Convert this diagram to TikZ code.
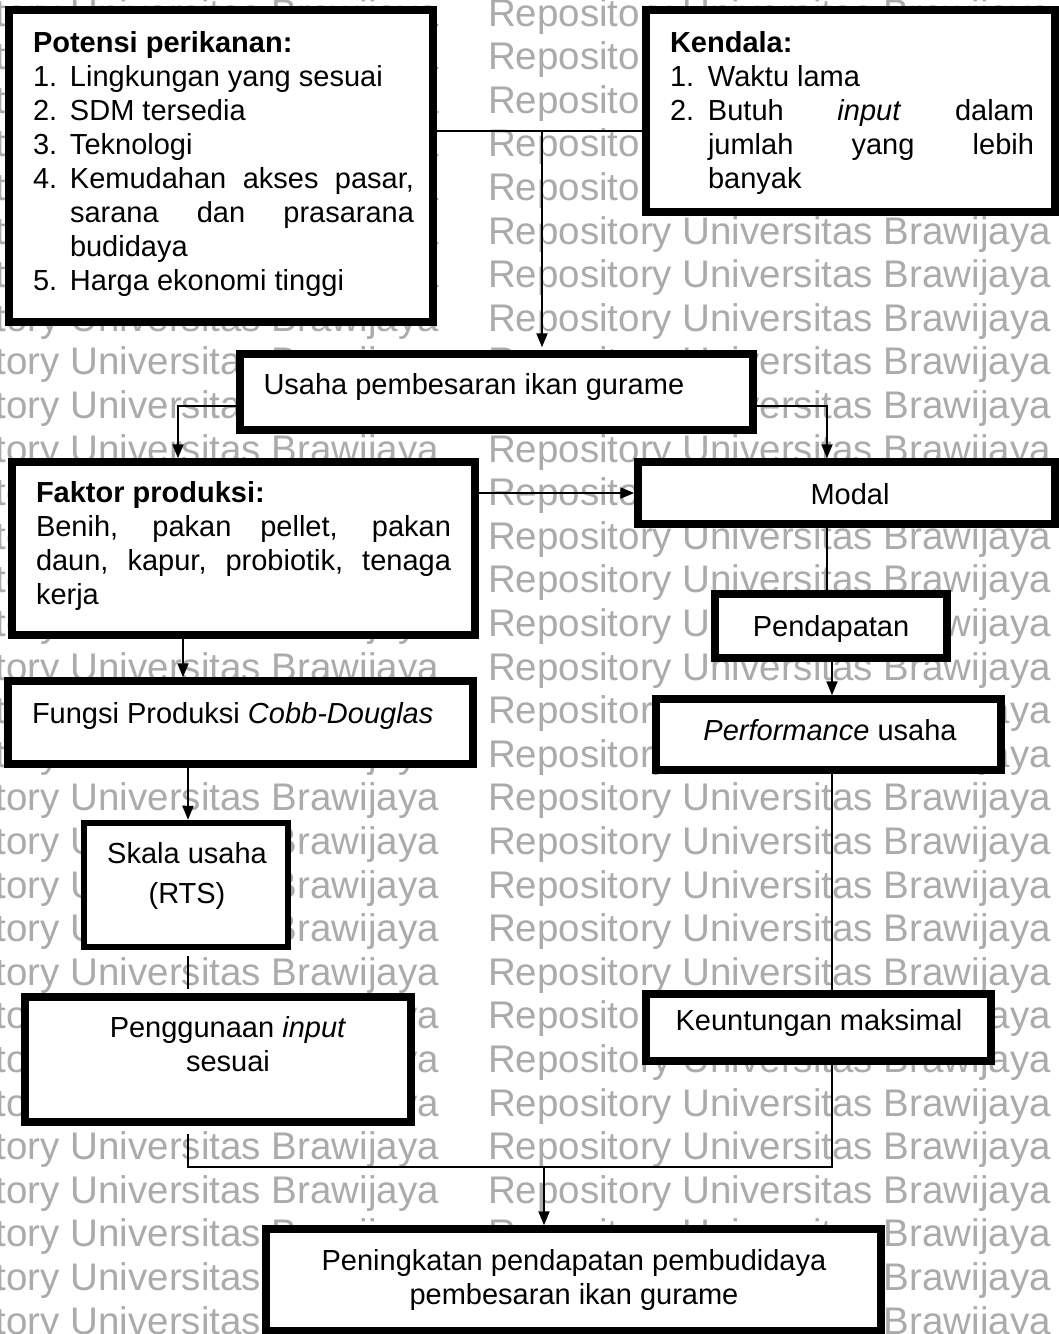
\documentclass[tikz,border=0pt]{standalone}
\usepackage{fontspec}
\setmainfont{Liberation Sans}
\usetikzlibrary{arrows.meta}
\newcommand\msz{\fontsize{29}{34}\selectfont}
\newcommand\wmsz{\fontsize{38.5}{40}\selectfont}
\tikzset{
  box/.style={draw=black, line width=7.5pt, fill=white, rectangle, inner sep=0pt},
  conn/.style={line width=2pt, draw=black},
  arr/.style={conn, -{Triangle[length=14pt,width=11pt]}},
  txt/.style={inner sep=0pt, outer sep=0pt, font=\msz, text=black},
  wm/.style={inner sep=0pt, font=\wmsz, text=black!33, anchor=base east},
}
\begin{document}
\begin{tikzpicture}[x=1pt,y=-1pt]
\useasboundingbox (0,0) rectangle (1059,1334);
\fill[white] (0,0) rectangle (1059,1334);
% watermark
\foreach \k in {0,...,30}{
  \node[wm] (wl\k) at (439,{26+43.6*\k}) {Repository Universitas Brawijaya};
  \node[wm] (wr\k) at (1051,{26+43.6*\k}) {Repository Universitas Brawijaya};
}
% boxes
\node[box, minimum width=424pt, minimum height=312pt] (pt) at (221,166) {};
\node[box, minimum width=409pt, minimum height=202pt] (kd) at (850.5,111) {};
\node[box, minimum width=513pt, minimum height=76pt] (us) at (496.5,392) {};
\node[box, minimum width=463pt, minimum height=173pt] (fk) at (243.5,548.5) {};
\node[box, minimum width=417pt, minimum height=62pt] (md) at (846.5,493) {};
\node[box, minimum width=232pt, minimum height=64pt] (pd) at (831,626) {};
\node[box, minimum width=345pt, minimum height=71pt] (pf) at (828.5,734.5) {};
\node[box, minimum width=345pt, minimum height=67pt] (ku) at (818.5,1027.5) {};
\node[box, minimum width=465pt, minimum height=83pt] (fg) at (240.5,722.5) {};
\node[box, line width=6.5pt, minimum width=204pt, minimum height=124pt] (sk) at (186,885) {};
\node[box, minimum width=386pt, minimum height=125pt] (pg) at (218,1059.5) {};
\node[box, minimum width=615pt, minimum height=102pt] (fn) at (573.5,1280) {};
% texts
\node[txt, anchor=base west] (ptt) at (33,52) {\parbox[t]{381pt}{\textbf{Potensi perikanan:}\\
\makebox[37pt][l]{1.}Lingkungan yang sesuai\\
\makebox[37pt][l]{2.}SDM tersedia\\
\makebox[37pt][l]{3.}Teknologi\\
\makebox[37pt][l]{4.}\makebox[344pt][s]{Kemudahan akses pasar,}\\
\hspace*{37pt}\makebox[344pt][s]{sarana dan prasarana}\\
\hspace*{37pt}budidaya\\
\makebox[37pt][l]{5.}Harga ekonomi tinggi}};
\node[txt, anchor=base west] (kdt) at (670,52) {\parbox[t]{364pt}{\textbf{Kendala:}\\
\makebox[38pt][l]{1.}Waktu lama\\
\makebox[38pt][l]{2.}\makebox[326pt][s]{Butuh \textit{input} dalam}\\
\hspace*{38pt}\makebox[326pt][s]{jumlah yang lebih}\\
\hspace*{38pt}banyak}};
\node[txt, anchor=base west] (ust) at (263.5,394) {Usaha pembesaran ikan gurame};
\node[txt, anchor=base west] (fkt) at (36,502) {\parbox[t]{415pt}{\textbf{Faktor produksi:}\\
\makebox[415pt][s]{Benih, pakan pellet, pakan}\\
\makebox[415pt][s]{daun, kapur, probiotik, tenaga}\\
kerja}};
\node[txt, anchor=base] (mdt) at (850,504) {Modal};
\node[txt, anchor=base] (pdt) at (831,636) {Pendapatan};
\node[txt, anchor=base] (pft) at (830,740) {\textit{Performance} usaha};
\node[txt, anchor=base] (kut) at (819,1030) {Keuntungan maksimal};
\node[txt, anchor=base west] (fgt) at (32,723) {Fungsi Produksi \textit{Cobb-Douglas}};
\node[txt, anchor=base] (skt) at (187,863) {\parbox[t]{200pt}{\fontsize{29}{40}\selectfont\centering Skala usaha\\(RTS)}};
\node[txt, anchor=base] (pgt) at (228,1037) {\parbox[t]{380pt}{\centering Penggunaan \textit{input}\\sesuai}};
\node[txt, anchor=base] (fnt) at (574,1270) {\parbox[t]{600pt}{\centering Peningkatan pendapatan pembudidaya\\pembesaran ikan gurame}};
% connectors
\coordinate (j1) at (542,131);
\draw[conn] (pt.east |- j1) -- (kd.west |- j1);
\draw[arr, shorten >=3pt] (j1) -- (us.north -| j1);
\coordinate (j2) at (178,406);
\draw[arr] (us.west |- j2) -| (fk.north -| j2);
\coordinate (j3) at (827,406);
\draw[arr] (us.east |- j3) -| (md.north -| j3);
\draw[arr] (fk.east |- md.west) -- (md.west);
\draw[conn] (md.south -| j3) -- (pd.north -| j3);
\coordinate (j7) at (832,0);
\draw[arr] (pd.south -| j7) -- (pf.north -| j7);
\draw[conn] (pf.south -| j7) -- (ku.north -| j7);
\coordinate (j4) at (832,1167);
\coordinate (j5) at (188,1167);
\coordinate (j6) at (544,1167);
\draw[conn, shorten <=8pt] (pg.south -| j5) -- (j5) -- (j4) -- (ku.south -| j4);
\draw[arr] (j6) -- (fn.north -| j6);
\coordinate (c1) at (183,0);
\coordinate (c2) at (188,0);
\draw[arr] (fk.south -| c1) -- (fg.north -| c1);
\draw[arr] (fg.south -| c2) -- (sk.north -| c2);
\draw[conn, shorten <=6pt, shorten >=4pt] (sk.south -| c2) -- (pg.north -| c2);
\end{tikzpicture}
\end{document}
